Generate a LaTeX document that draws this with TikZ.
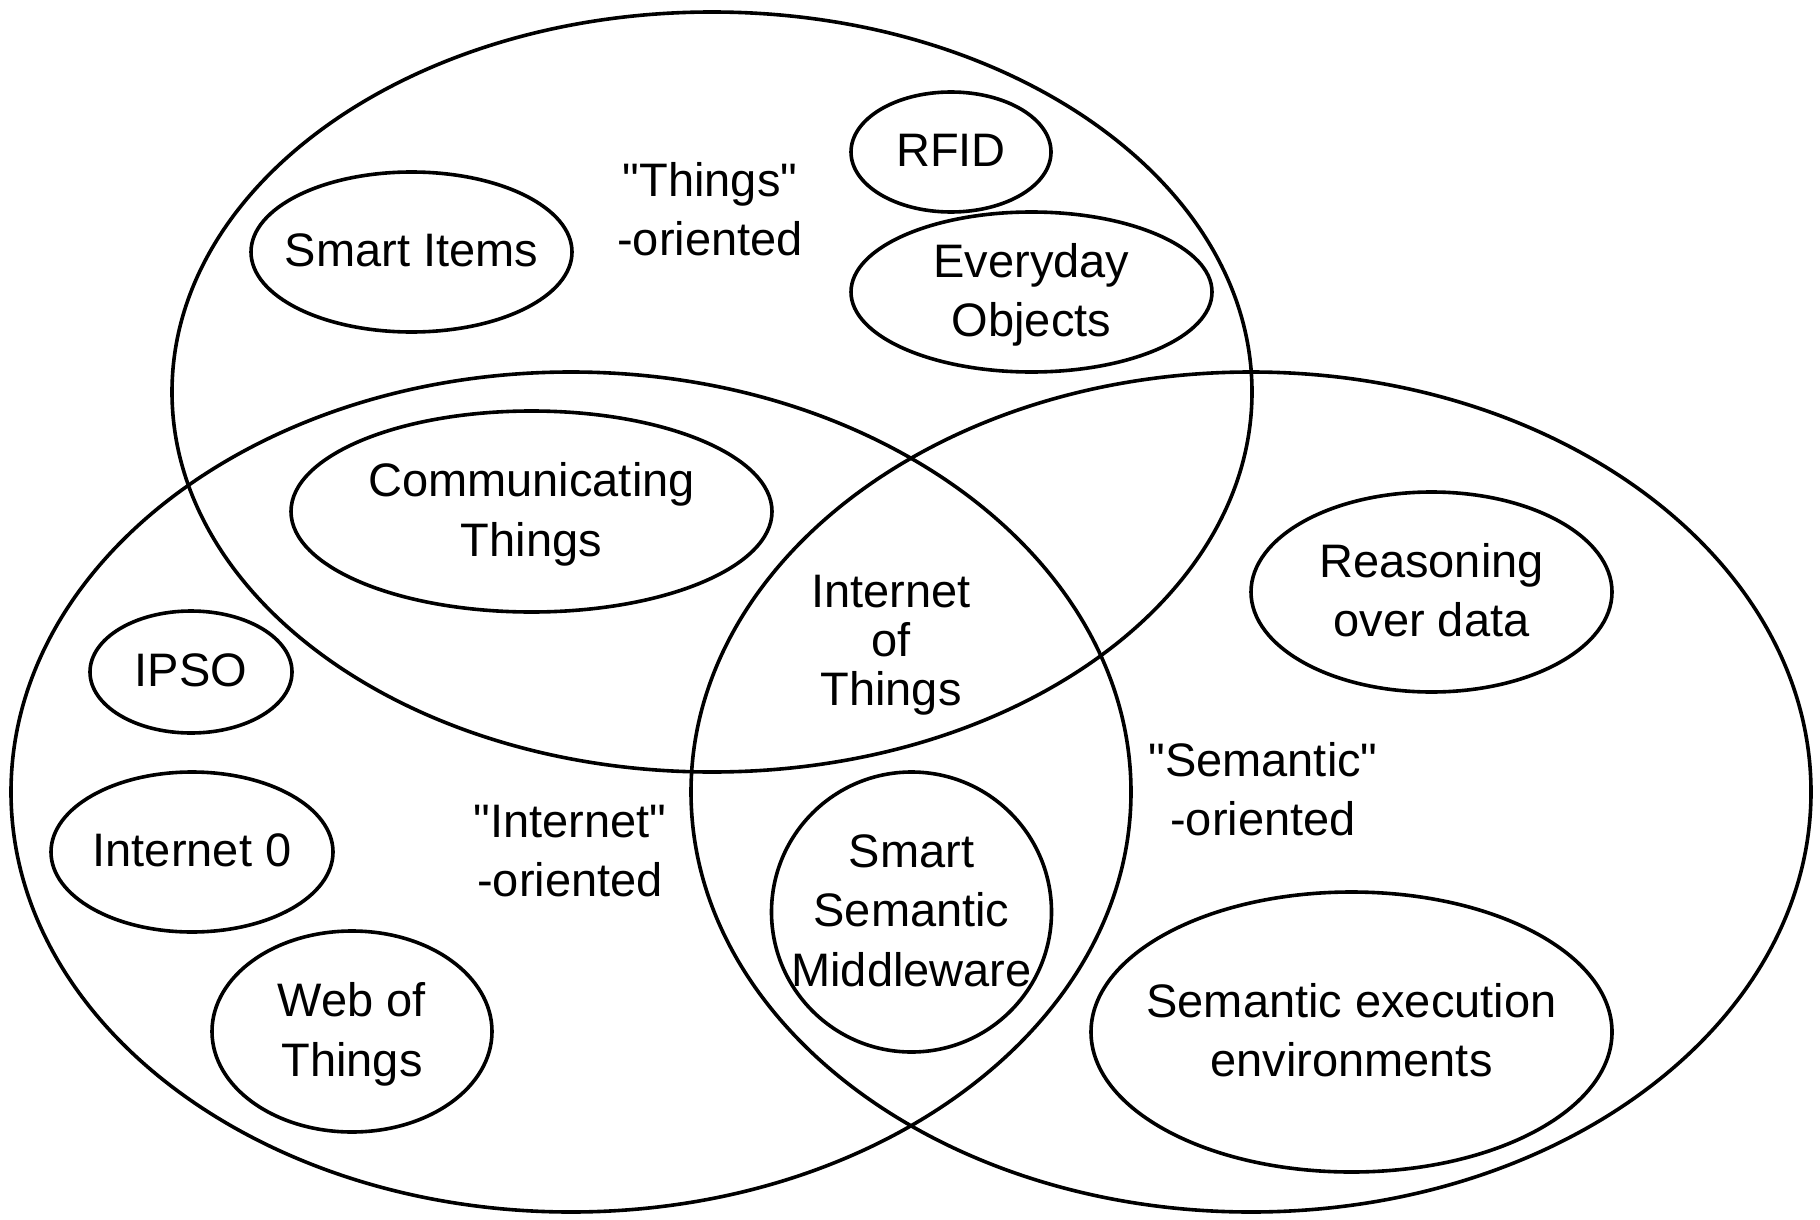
\documentclass[tikz,border=0pt]{standalone}
\usepackage{fontspec}
\setmainfont{Liberation Sans}[Ligatures=TeXOff]
\usetikzlibrary{shapes.geometric}
% struts that fix the vertical placement of label lines
\newcommand\lstr{\rule[-7.4pt]{0pt}{29.75pt}}
\newcommand\kstr{\rule[-4.5pt]{0pt}{24pt}}
\newcommand\labelfont{\fontsize{23.5pt}{29.75pt}\selectfont\lineskiplimit-50pt\relax}
\newcommand\tightfont{\fontsize{23.5pt}{24.35pt}\selectfont\lineskiplimit-50pt\relax}
\tikzset{
  ov/.style={draw, ellipse, inner sep=0pt, outer sep=0pt, line width=1.8pt},
  txt/.style={align=center, inner sep=0pt, font=\labelfont},
  tight/.style={align=center, inner sep=0pt, font=\tightfont}
}
\begin{document}
\begin{tikzpicture}[x=0.5pt, y=-0.5pt]
\useasboundingbox (0,0) rectangle (1820,1220);
\fill[white] (0,0) rectangle (1820,1220);

% three overlapping domains
\node[ov, minimum width=540pt, minimum height=380pt] (things)   at (712,392) {};
\node[ov, minimum width=560pt, minimum height=420pt] (internet) at (571,792) {};
\node[ov, minimum width=560pt, minimum height=420pt] (semantic) at (1251,792) {};

% domain captions
\node[txt] (thingsLbl)   at (710,211)  {\lstr"Things"\\-oriented\lstr};
\node[txt] (internetLbl) at (570,852)  {\lstr"Internet"\\-oriented\lstr};
\node[txt] (semanticLbl) at (1263,791) {\lstr"Semantic"\\-oriented\lstr};
\node[tight] (iot) at (891,642) {\kstr Internet\\of\\Things\kstr};

% concepts
\node[ov, minimum width=160.5pt, minimum height=80pt]  (smartitems) at (411.5,252) {};
\node[txt] at (smartitems) {\lstr Smart Items\lstr};

\node[ov, minimum width=100pt, minimum height=60pt]    (rfid) at (951,152) {};
\node[txt] at (rfid) {\lstr RFID\lstr};

\node[ov, minimum width=180.5pt, minimum height=80pt]  (everyday) at (1031.5,292) {};
\node[txt] at (everyday) {\lstr Everyday\\Objects\lstr};

\node[ov, minimum width=240.5pt, minimum height=100.5pt] (comm) at (531.5,511.5) {};
\node[txt] at (comm) {\lstr Communicating\\Things\lstr};

\node[ov, minimum width=101pt, minimum height=61pt]    (ipso) at (191,672) {};
\node[txt] at (ipso) {\lstr IPSO\lstr};

\node[ov, minimum width=141pt, minimum height=80pt]    (inet0) at (192,852) {};
\node[txt] at (inet0) {\lstr Internet 0\lstr};

\node[ov, minimum width=140pt, minimum height=100.5pt] (wot) at (352,1031.5) {};
\node[txt] at (wot) {\lstr Web of\\Things\lstr};

\node[ov, minimum width=140pt, minimum height=140pt]   (ssm) at (911.5,912) {};
\node[txt] at (ssm) {\lstr Smart\\Semantic\\Middleware\lstr};

\node[ov, minimum width=180.5pt, minimum height=100pt] (reason) at (1431.5,592) {};
\node[txt] at (reason) {\lstr Reasoning\\over data\lstr};

\node[ov, minimum width=260.5pt, minimum height=140pt] (see) at (1351.5,1032) {};
\node[txt] at (see) {\lstr Semantic execution\\environments\lstr};
\end{tikzpicture}
\end{document}
